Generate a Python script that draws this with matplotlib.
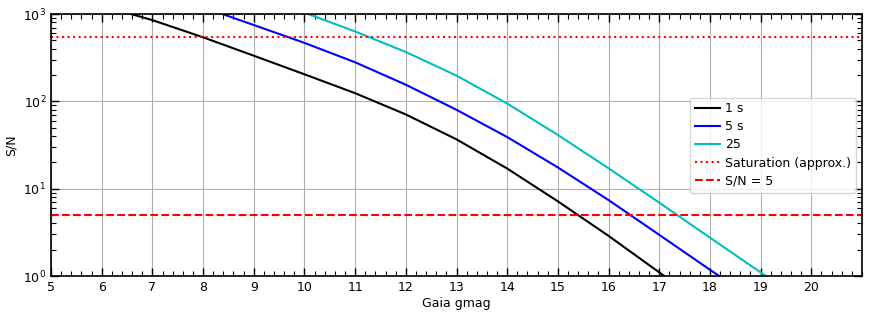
import matplotlib
matplotlib.use("Agg")
import matplotlib.pyplot as plt
from matplotlib.ticker import MultipleLocator, LogLocator, NullFormatter

# Data
mag_1s = [6.58, 7, 8, 9, 10, 11, 12, 13, 14, 15, 16, 17, 17.1]
sn_1s = [1000, 851, 541, 333, 204, 124, 70.8, 36.7, 17.0, 7.16, 2.88, 1.10, 1.0]

mag_5s = [8.38, 9, 10, 11, 12, 13, 14, 15, 16, 17, 18, 18.18]
sn_5s = [1000, 748, 467, 280, 155, 80, 39, 17.5, 7.4, 2.96, 1.18, 1.0]

mag_25 = [10.07, 11, 12, 13, 14, 15, 16, 17, 18, 19, 19.1]
sn_25 = [1000, 631, 367, 197, 94.4, 41.2, 17.1, 6.92, 2.75, 1.10, 1.0]

saturation = 541
sn_limit = 5

labels = ["1 s", "5 s", "25", "Saturation (approx.)", "S/N = 5"]

fig = plt.figure(figsize=(8.71, 3.19), dpi=100)
ax = fig.add_axes([51/871, 43/319, (862-51)/871, (276-14)/319])

ax.plot(mag_1s, sn_1s, color="black", lw=1.5, label=labels[0])
ax.plot(mag_5s, sn_5s, color="blue", lw=1.5, label=labels[1])
ax.plot(mag_25, sn_25, color="c", lw=1.5, label=labels[2])
ax.axhline(saturation, color="red", ls=":", lw=1.5, label=labels[3])
ax.axhline(sn_limit, color="red", ls="--", lw=1.5, label=labels[4])

ax.set_yscale("log")
ax.set_xlim(5, 21)
ax.set_ylim(1, 1000)
ax.set_xticks(range(5, 21))
ax.xaxis.set_minor_locator(MultipleLocator(0.2))
ax.yaxis.set_minor_locator(LogLocator(base=10, subs=range(2, 10)))
ax.yaxis.set_minor_formatter(NullFormatter())

ax.grid(True, which="major", color="#b0b0b0", lw=0.8)
ax.set_axisbelow(True)
ax.tick_params(which="both", direction="in", top=True, right=True, labelsize=9)
ax.tick_params(which="major", length=6, width=1)
ax.tick_params(which="minor", length=3.5, width=0.8)
for s in ax.spines.values():
    s.set_linewidth(1.2)

ax.set_xlabel("Gaia gmag", fontsize=9, labelpad=2)
ax.set_ylabel("S/N", fontsize=9)
ax.legend(loc="center right", fontsize=9, framealpha=0.8, handlelength=2.0,
          handletextpad=0.4, labelspacing=0.4)

fig.savefig("out.png", dpi=100)
